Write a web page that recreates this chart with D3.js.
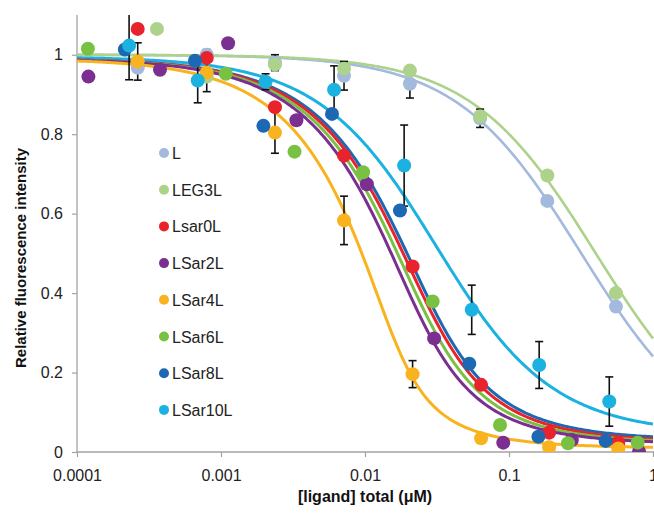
<!DOCTYPE html>
<html><head><meta charset="utf-8">
<script src="https://cdn.jsdelivr.net/npm/d3@7"></script>
<style>html,body{margin:0;padding:0;background:#fff;}svg{display:block;}</style>
</head><body>
<script>
// ---------- data ----------
const seriesNames = ["L","LEG3L","Lsar0L","LSar2L","LSar4L","LSar6L","LSar8L","LSar10L"];
const seriesColors = ["#a3b9dd","#acd28b","#e8232b","#7b2f90","#f8b31e","#79c143","#1d68b2","#1bb1e0"];

const xL      = [0.000264,0.000796,0.00237,0.00715,0.0205,0.063,0.1845,0.553];
const yL      = [0.967,1.0,0.98,0.947,0.927,0.84,0.632,0.366];
const eL      = [0.01,0.013,0.02,0.036,0.036,0.023,0.008,0.006];

const xLEG3L  = [0.000359,0.000796,0.00237,0.00715,0.0205,0.063,0.1845,0.553];
const yLEG3L  = [1.065,0.945,0.975,0.965,0.96,0.845,0.696,0.40];

const xLsar0L = [0.000264,0.000796,0.00237,0.00715,0.0214,0.064,0.19,0.574];
const yLsar0L = [1.065,0.992,0.868,0.746,0.467,0.169,0.0487,0.0235];

const xLSar2L = [0.00012,0.000377,0.00112,0.00334,0.0103,0.0302,0.0912,0.273,0.8];
const yLSar2L = [0.945,0.962,1.029,0.835,0.674,0.286,0.0235,0.030,0.001];

const xLSar4L = [0.000264,0.000796,0.00237,0.00715,0.0214,0.064,0.19,0.574];
const yLSar4L = [0.983,0.955,0.804,0.583,0.196,0.0344,0.012,0.009];
const eLSar4L = [0.047,0.048,0.052,0.061,0.034,0,0,0];

const xLSar6L = [0.000119,0.00108,0.00324,0.0097,0.0295,0.0866,0.257,0.783];
const yLSar6L = [1.015,0.952,0.756,0.704,0.379,0.068,0.022,0.0235];

const xLSar8L = [0.000215,0.00066,0.00197,0.0059,0.0175,0.053,0.16,0.469];
const yLSar8L = [1.013,0.985,0.821,0.851,0.608,0.222,0.0386,0.028];

const xLSar10L = [0.00023,0.000689,0.00204,0.0061,0.0187,0.0551,0.162,0.497];
const yLSar10L = [1.023,0.935,0.932,0.912,0.721,0.358,0.219,0.127];
const eLSar10L = [0.086,0.056,0.02,0.06,0.102,0.062,0.059,0.062];

// fitted binding-curve parameters (probe conc. P, Kd, top, bottom)
const fitP   = [0.001,0.001,0.020,0.018,0.015,0.019,0.021,0.008];
const fitKd  = [0.317,0.40,0.008,0.006,0.002,0.007,0.0085,0.027];
const fitTop = [1.0,1.0,0.99,0.99,0.99,0.99,0.99,0.995];
const fitBot = [0.0,0.0,0.025,0.02,0.01,0.022,0.03,0.045];

const xTicks = [0.0001,0.001,0.01,0.1,1];
const xTickLabels = ["0.0001","0.001","0.01","0.1","1"];
const yTicks = [0,0.2,0.4,0.6,0.8,1];
const yTickLabels = ["0","0.2","0.4","0.6","0.8","1"];

const xs = [xL,xLEG3L,xLsar0L,xLSar2L,xLSar4L,xLSar6L,xLSar8L,xLSar10L];
const ys = [yL,yLEG3L,yLsar0L,yLSar2L,yLSar4L,yLSar6L,yLSar8L,yLSar10L];
const es = [eL,null,null,null,eLSar4L,null,null,eLSar10L];

// ---------- chart ----------
const W = 654, H = 518;
const svg = d3.select("body").append("svg").attr("width",W).attr("height",H)
  .style("font-family","'Liberation Sans', Arial, sans-serif");
svg.append("rect").attr("width",W).attr("height",H).attr("fill","#fff");

const x = d3.scaleLog().domain([0.0001,1]).range([77,653]);
const y = d3.scaleLinear().domain([0,1.1]).range([452,15]);
const axisColor = "#a9a0a0";

svg.append("defs").append("clipPath").attr("id","plot")
  .append("rect").attr("x",77).attr("y",15).attr("width",W-77).attr("height",452-15);

// axes
const gx = svg.append("g").attr("transform","translate(0,452)")
  .call(d3.axisBottom(x).tickValues(xTicks).tickFormat((d,i)=>xTickLabels[i]).tickSize(5).tickPadding(13));
gx.select(".domain").attr("d","M77,0H654");
const gy = svg.append("g").attr("transform","translate(77,0)")
  .call(d3.axisLeft(y).tickValues(yTicks).tickFormat((d,i)=>yTickLabels[i]).tickSize(5).tickPadding(9));
gy.select(".domain").attr("d","M0,15V452");
[gx,gy].forEach(g=>{
  g.selectAll(".domain").attr("stroke",axisColor).attr("stroke-width",1.3);
  g.selectAll(".tick line").attr("stroke",axisColor).attr("stroke-width",1.2);
  g.selectAll("text").attr("fill","#222").style("font-size","16px").style("font-family","'Liberation Sans', Arial, sans-serif");
});

// axis titles
svg.append("text").attr("x",365).attr("y",502).attr("text-anchor","middle")
  .style("font-size","16px").style("font-weight","bold").attr("fill","#111")
  .text("[ligand] total (\u03bcM)");
svg.append("text").attr("transform","translate(26,258) rotate(-90)").attr("text-anchor","middle")
  .style("font-size","15px").style("font-weight","bold").attr("fill","#111")
  .text("Relative fluorescence intensity");

// model curves
function model(L,i){
  const P=fitP[i],K=fitKd[i];
  const S=P+L+K, D=Math.sqrt(S*S-4*P*L);
  const B=2*L/(S+D);
  return fitTop[i]-(fitTop[i]-fitBot[i])*B;
}
const grid = d3.range(0,301).map(k=>Math.pow(10,-4+4*k/300));
const line = d3.line().x(d=>x(d[0])).y(d=>y(d[1])).curve(d3.curveLinear);
const plot = svg.append("g").attr("clip-path","url(#plot)");
const curveOrder = [0,1,7,6,2,5,3,4];
curveOrder.forEach(i=>{
  plot.append("path").datum(grid.map(L=>[L,model(L,i)]))
    .attr("d",line).attr("fill","none").attr("stroke",seriesColors[i])
    .attr("stroke-width", i<2 ? 2.6 : 3);
});

// error bars
es.forEach((e,i)=>{
  if(!e) return;
  xs[i].forEach((xv,j)=>{
    if(!e[j]) return;
    const cx=x(xv), y1=y(ys[i][j]+e[j]), y2=y(ys[i][j]-e[j]);
    const g=plot.append("g").attr("stroke","#111").attr("stroke-width",1.6);
    g.append("line").attr("x1",cx).attr("x2",cx).attr("y1",y1).attr("y2",y2);
    g.append("line").attr("x1",cx-4).attr("x2",cx+4).attr("y1",y1).attr("y2",y1);
    g.append("line").attr("x1",cx-4).attr("x2",cx+4).attr("y1",y2).attr("y2",y2);
  });
});

// points
seriesNames.forEach((n,i)=>{
  plot.selectAll(null).data(xs[i].map((xv,j)=>[xv,ys[i][j]])).enter()
    .append("circle").attr("cx",d=>x(d[0])).attr("cy",d=>y(d[1])).attr("r",7)
    .attr("fill",seriesColors[i]);
});

// legend
const leg = svg.append("g");
seriesNames.forEach((n,i)=>{
  const ly = 153 + i*36.7;
  leg.append("circle").attr("cx",164).attr("cy",ly).attr("r",5).attr("fill",seriesColors[i]);
  leg.append("text").attr("x",172).attr("y",ly+6).style("font-size","16px").attr("fill","#222").text(n);
});
</script>
</body></html>
